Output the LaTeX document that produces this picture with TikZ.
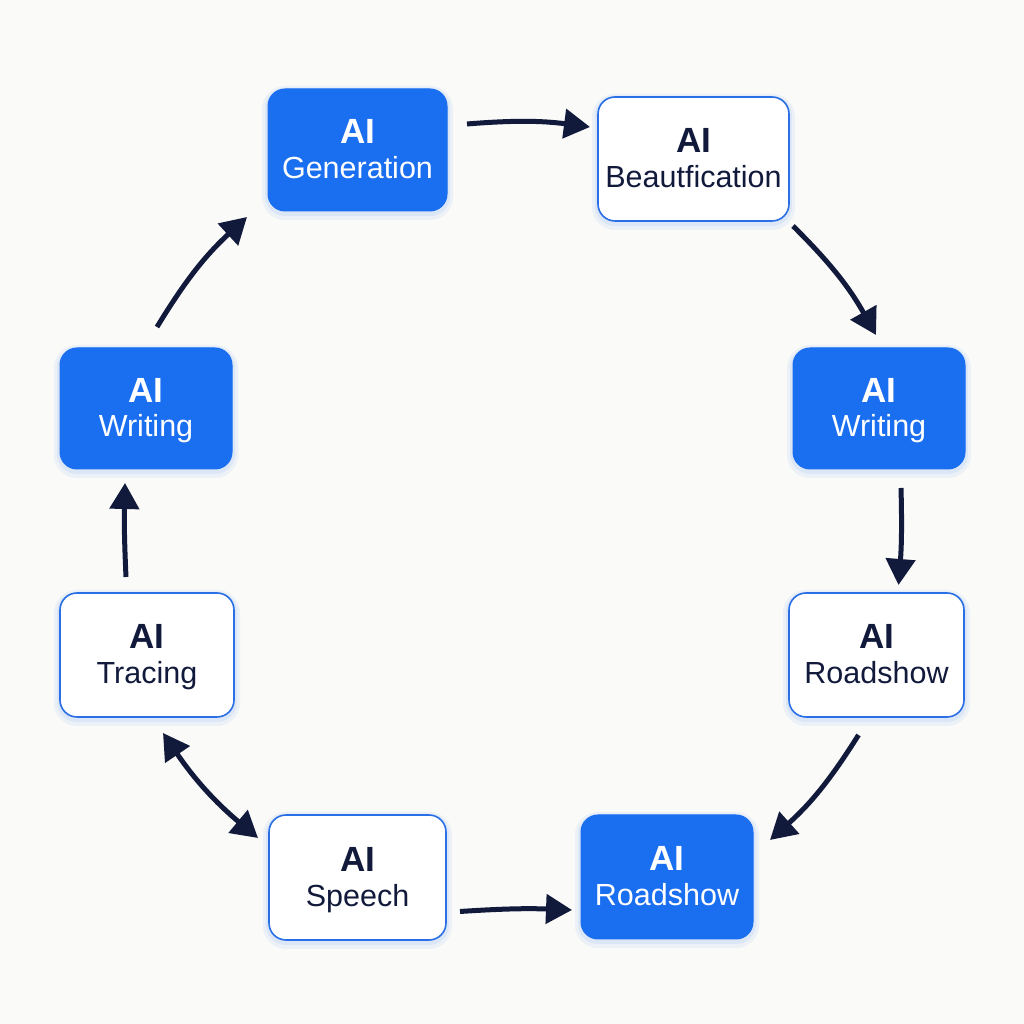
\documentclass[tikz,border=0pt]{standalone}
\usepackage{fontspec}
\setmainfont{Liberation Sans}
\usetikzlibrary{arrows.meta,calc}
\definecolor{bluefill}{HTML}{1A6EF0}
\definecolor{blueline}{HTML}{2A6FE6}
\definecolor{navy}{HTML}{121A3C}
\definecolor{bgcol}{HTML}{FAFAF8}
\tikzset{
  box/.style={rounded corners=17pt, inner sep=0pt, outer sep=0pt,
    preaction={draw=bluefill, draw opacity=0.06, line width=12pt, transform canvas={yshift=-3pt}},
    preaction={draw=bluefill, draw opacity=0.08, line width=6pt, transform canvas={yshift=-2pt}}},
  filledbox/.style={box, fill=bluefill, draw=bluefill, line width=1pt},
  plainbox/.style={box, fill=white, draw=blueline, line width=1.6pt},
  bigtxt/.style={anchor=base, inner sep=0pt, font=\fontsize{35}{35}\selectfont\bfseries},
  smalltxt/.style={anchor=base, inner sep=0pt, font=\fontsize{30.5}{30}\selectfont},
  conn/.style={draw=navy, line width=5pt, -{Triangle[length=26pt,width=29pt]}},
  dconn/.style={draw=navy, line width=5pt, {Triangle[length=26pt,width=29pt]}-{Triangle[length=26pt,width=29pt]}},
}
\begin{document}
\begin{tikzpicture}[x=1pt,y=1pt]
\fill[bgcol] (0,0) rectangle (1024,1024);
\useasboundingbox (0,0) rectangle (1024,1024);

% boxes
\node[filledbox, minimum width=179pt, minimum height=122pt] (gen) at (357.5,874) {};
\node[plainbox, minimum width=191pt, minimum height=124pt] (beaut) at (693.5,865) {};
\node[filledbox, minimum width=172pt, minimum height=121pt] (wr) at (879,615.5) {};
\node[plainbox, minimum width=175pt, minimum height=124pt] (rs) at (876.5,369) {};
\node[filledbox, minimum width=172pt, minimum height=124pt] (rsb) at (667,147) {};
\node[plainbox, minimum width=177pt, minimum height=125pt] (sp) at (357.5,146.5) {};
\node[plainbox, minimum width=174pt, minimum height=124pt] (tr) at (147,369) {};
\node[filledbox, minimum width=172pt, minimum height=121pt] (wl) at (146,615.5) {};

% texts
\node[bigtxt, white] (gen1) at ([yshift=6pt]gen.center) {AI};
\node[smalltxt, white] (gen2) at ([yshift=-29pt]gen.center) {Generation};
\node[bigtxt, navy] (beaut1) at ([yshift=6pt]beaut.center) {AI};
\node[smalltxt, navy] (beaut2) at ([yshift=-29pt]beaut.center) {Beautfication};
\node[bigtxt, white] (wr1) at ([yshift=6pt]wr.center) {AI};
\node[smalltxt, white] (wr2) at ([yshift=-28pt]wr.center) {Writing};
\node[bigtxt, navy] (rs1) at ([yshift=6pt]rs.center) {AI};
\node[smalltxt, navy] (rs2) at ([yshift=-29pt]rs.center) {Roadshow};
\node[bigtxt, white] (rsb1) at ([yshift=6pt]rsb.center) {AI};
\node[smalltxt, white] (rsb2) at ([yshift=-29pt]rsb.center) {Roadshow};
\node[bigtxt, navy] (sp1) at ([yshift=6pt]sp.center) {AI};
\node[smalltxt, navy] (sp2) at ([yshift=-29pt]sp.center) {Speech};
\node[bigtxt, navy] (tr1) at ([yshift=6pt]tr.center) {AI};
\node[smalltxt, navy] (tr2) at ([yshift=-29pt]tr.center) {Tracing};
\node[bigtxt, white] (wl1) at ([yshift=6pt]wl.center) {AI};
\node[smalltxt, white] (wl2) at ([yshift=-28pt]wl.center) {Writing};

% connectors
\draw[conn] ([xshift=20pt,yshift=26pt]gen.east) to[bend left=6] ([xshift=-8pt,yshift=32pt]beaut.west);
\draw[conn] ([xshift=4pt,yshift=-5pt]beaut.south east) to[bend left=8] ([xshift=-3pt,yshift=13pt]wr.north);
\draw[conn] ([xshift=22pt,yshift=-19pt]wr.south) to[bend left=3] ([xshift=22pt,yshift=8pt]rs.north);
\draw[conn] ([xshift=-18pt,yshift=-18pt]rs.south) to[bend left=8] ([xshift=17pt,yshift=-25pt]rsb.north east);
\draw[conn] ([xshift=14pt,yshift=-34pt]sp.east) to[bend left=3] ([xshift=-9pt,yshift=-33pt]rsb.west);
\draw[dconn] ([xshift=16pt,yshift=-16pt]tr.south) to[bend right=8] ([xshift=-11pt,yshift=-23pt]sp.north west);
\draw[conn] ([xshift=-21pt,yshift=16pt]tr.north) to[bend left=2] ([xshift=-21pt,yshift=-14pt]wl.south);
\draw[conn] ([xshift=11pt,yshift=21pt]wl.north) to[bend left=8] ([xshift=-21pt,yshift=-6pt]gen.south west);
\end{tikzpicture}
\end{document}
